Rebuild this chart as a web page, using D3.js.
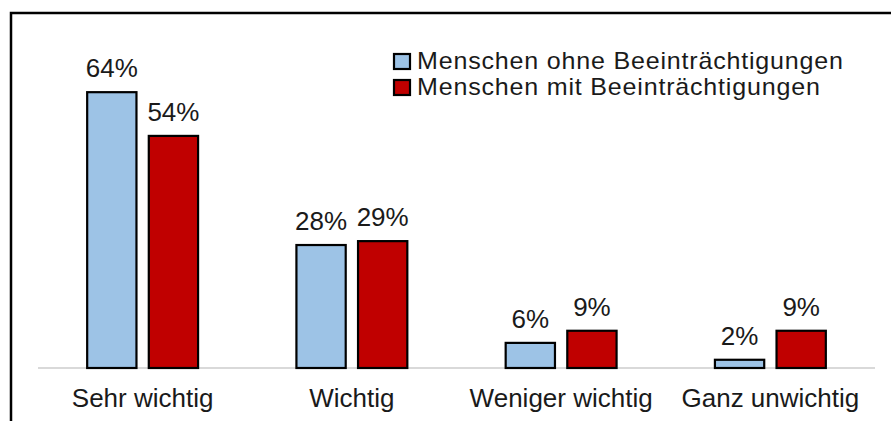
<!DOCTYPE html>
<html>
<head>
<meta charset="utf-8">
<script src="https://cdn.jsdelivr.net/npm/d3@7"></script>
<style>
  body { margin: 0; background: #fff; }
  svg { display: block; font-family: "Liberation Sans", Arial, sans-serif; }
</style>
</head>
<body>
<svg width="891" height="421"></svg>
<script>
// data (bar heights estimated, labels rounded)
var categories = ["Sehr wichtig", "Wichtig", "Weniger wichtig", "Ganz unwichtig"];
var series = ["Menschen ohne Beeinträchtigungen", "Menschen mit Beeinträchtigungen"];
var ohne = [63.7, 28.4, 5.8, 1.9];
var mit = [53.6, 29.3, 8.6, 8.6];
var colors = ["#9dc3e6", "#c00000"];

var svg = d3.select("svg");

// frame (right and bottom edges lie outside the picture)
svg.append("rect")
    .attr("x", 11).attr("y", 13)
    .attr("width", 1000).attr("height", 600)
    .attr("fill", "none")
    .attr("stroke", "#000")
    .attr("stroke-width", 2.5);

var data = categories.map(function (c, i) {
    return { cat: c, values: [ohne[i], mit[i]] };
});

var x0 = d3.scaleBand()
    .domain(categories)
    .range([38, 875])
    .paddingInner(0.47)
    .paddingOuter(0.235);

var x1 = d3.scaleBand()
    .domain(d3.range(series.length))
    .range([0, x0.bandwidth()])
    .paddingInner(0.2);

var y = d3.scaleLinear()
    .domain([0, 80])
    .range([368, 21.6]);

var g = svg.append("g");

// baseline
g.append("line")
    .attr("x1", 38).attr("x2", 875)
    .attr("y1", y(0)).attr("y2", y(0))
    .attr("stroke", "#d9d9d9")
    .attr("stroke-width", 2);

var groups = g.selectAll(".grp")
    .data(data)
    .enter().append("g")
    .attr("class", "grp")
    .attr("transform", function (d) { return "translate(" + x0(d.cat) + ",0)"; });

groups.selectAll("rect")
    .data(function (d) { return d.values; })
    .enter().append("rect")
    .attr("x", function (d, i) { return x1(i); })
    .attr("y", function (d) { return y(d); })
    .attr("width", x1.bandwidth())
    .attr("height", function (d) { return y(0) - y(d); })
    .attr("fill", function (d, i) { return colors[i]; })
    .attr("stroke", "#000")
    .attr("stroke-width", 2.2);

groups.selectAll("text")
    .data(function (d) { return d.values; })
    .enter().append("text")
    .attr("x", function (d, i) { return x1(i) + x1.bandwidth() / 2; })
    .attr("y", function (d) { return y(d) - 15; })
    .attr("text-anchor", "middle")
    .attr("font-size", 26)
    .attr("fill", "#1a1a1a")
    .text(function (d) { return Math.round(d) + "%"; });

// category axis
var axis = g.append("g")
    .attr("transform", "translate(0," + y(0) + ")")
    .call(d3.axisBottom(x0).tickSize(0).tickPadding(0));
axis.select(".domain").remove();
axis.selectAll("text")
    .attr("dy", 0)
    .attr("y", 39)
    .attr("font-size", 26)
    .attr("font-family", "Liberation Sans, Arial, sans-serif")
    .attr("fill", "#1a1a1a");

// legend
var legend = svg.append("g")
    .selectAll("g")
    .data(series)
    .enter().append("g")
    .attr("transform", function (d, i) { return "translate(394," + (54 + i * 26) + ")"; });

legend.append("rect")
    .attr("width", 16).attr("height", 15)
    .attr("fill", function (d, i) { return colors[i]; })
    .attr("stroke", "#000")
    .attr("stroke-width", 2.2);

legend.append("text")
    .attr("transform", "translate(23,15) scale(1.08,1)")
    .attr("font-size", 23.2)
    .attr("letter-spacing", 0.75)
    .attr("fill", "#1a1a1a")
    .text(function (d) { return d; });
</script>
</body>
</html>
